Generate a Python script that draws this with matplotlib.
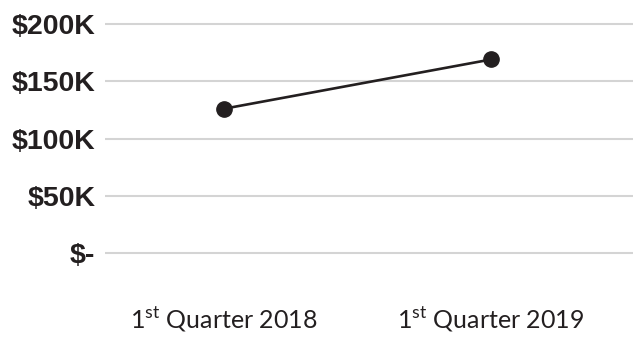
import matplotlib
matplotlib.use("Agg")
import matplotlib.pyplot as plt

categories = ["1$^{\\mathrm{st}}$ Quarter 2018", "1$^{\\mathrm{st}}$ Quarter 2019"]
values = [126000, 169000]
y_ticks = [0, 50000, 100000, 150000, 200000]
y_labels = ["$-", "$50K", "$100K", "$150K", "$200K"]

plt.rcParams['mathtext.fontset'] = 'custom'
plt.rcParams['mathtext.rm'] = 'Lato'

fig = plt.figure(figsize=(6.33, 3.39), dpi=100)
W, H = 633, 339
y_top, y_bot = 10, 300
ax = fig.add_axes([105 / W, (H - y_bot) / H, 1 - 105 / W, (y_bot - y_top) / H])

px_per = 57.25 / 50000
ax.set_ylim((253 - y_bot) / px_per, (253 - y_top) / px_per)
ax.set_xlim(-119 / 267, 1 + 142 / 267)

ax.plot(range(len(values)), values, color="#231f20", lw=1.9, marker="o",
        markersize=11, zorder=3)

ax.set_yticks(y_ticks)
ax.set_yticklabels([s.replace("$", "\\$") for s in y_labels],
                   fontfamily="Liberation Sans", fontweight="bold",
                   fontsize=20.5, color="#231f20")
ax.set_xticks(range(len(categories)))
ax.set_xticklabels(categories, fontfamily="Lato", fontsize=18, color="#231f20")
ax.tick_params(axis="y", length=0, pad=7)
ax.tick_params(axis="x", length=0, pad=4)
ax.grid(axis="y", color="#d4d4d4", lw=1.5)
ax.set_axisbelow(True)
for s in ax.spines.values():
    s.set_visible(False)

fig.savefig("out.png", dpi=100)
